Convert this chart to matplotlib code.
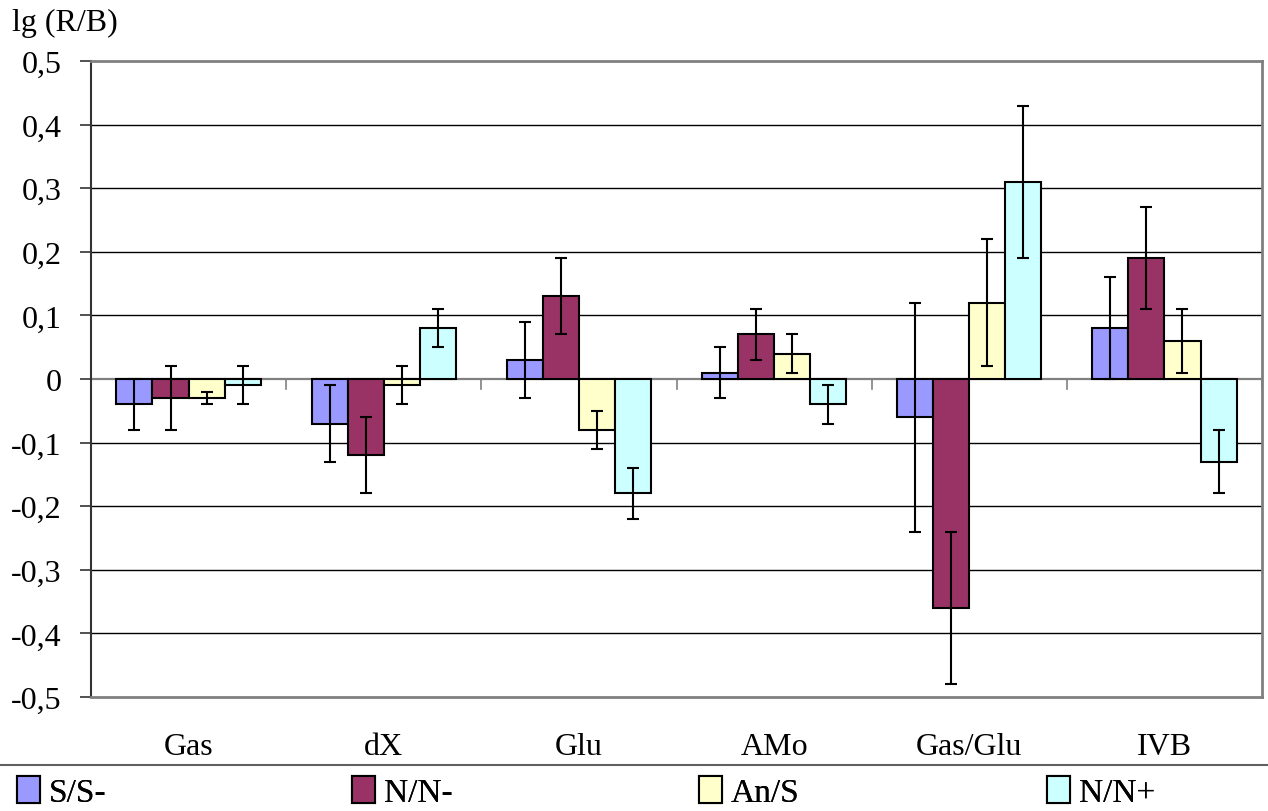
import matplotlib
matplotlib.use("Agg")
import matplotlib.pyplot as plt
from matplotlib.patches import Patch
import numpy as np

categories = ["Gas", "dX", "Glu", "AMo", "Gas/Glu", "IVB"]
series_names = ["S/S-", "N/N-", "An/S", "N/N+"]
s_s_minus = [-0.04, -0.07, 0.03, 0.01, -0.06, 0.08]
n_n_minus = [-0.03, -0.12, 0.13, 0.07, -0.36, 0.19]
an_s = [-0.03, -0.01, -0.08, 0.04, 0.12, 0.06]
n_n_plus = [-0.01, 0.08, -0.18, -0.04, 0.31, -0.13]
err_s_s_minus = [0.04, 0.06, 0.06, 0.04, 0.18, 0.08]
err_n_n_minus = [0.05, 0.06, 0.06, 0.04, 0.12, 0.08]
err_an_s = [0.01, 0.03, 0.03, 0.03, 0.10, 0.05]
err_n_n_plus = [0.03, 0.03, 0.04, 0.03, 0.12, 0.05]
y_ticks = [0.5, 0.4, 0.3, 0.2, 0.1, 0, -0.1, -0.2, -0.3, -0.4, -0.5]
y_tick_labels = ["0,5", "0,4", "0,3", "0,2", "0,1", "0", "-0,1", "-0,2", "-0,3", "-0,4", "-0,5"]

values = [s_s_minus, n_n_minus, an_s, n_n_plus]
errors = [err_s_s_minus, err_n_n_minus, err_an_s, err_n_n_plus]
colors = ["#9999FF", "#993366", "#FFFFCC", "#CCFFFF"]

plt.rcParams['font.family'] = ['Liberation Serif', 'DejaVu Serif']

W, H = 1268, 812
fig = plt.figure(figsize=(W / 100, H / 100), dpi=100)
fig.patch.set_facecolor("white")

left, right, top, bottom = 91, 1262, 62, 698
ax = fig.add_axes([left / W, 1 - bottom / H, (right - left) / W, (bottom - top) / H])

n = len(categories)
x = np.arange(n)
w = 0.185
offsets = [-1.5, -0.5, 0.5, 1.5]

ax.set_xlim(-0.5, n - 0.5)
ax.set_ylim(-0.5, 0.5)

for yv in y_ticks:
    if yv in (0.5, -0.5, 0):
        continue
    ax.axhline(yv, color="black", lw=1.0, zorder=1)
ax.axhline(0, color="#808080", lw=1.6, zorder=1)

for vals, errs, col, off, name in zip(values, errors, colors, offsets, series_names):
    ax.bar(x + off * w, vals, width=w, color=col, edgecolor="black", linewidth=1.5,
           zorder=3, label=name)
    ax.errorbar(x + off * w, vals, yerr=errs, fmt="none", ecolor="black",
                elinewidth=1.5, capsize=4, capthick=1.5, zorder=4)

for b in np.arange(n + 1) - 0.5:
    ax.plot([b, b], [0, -0.016], color="#808080", lw=1.2, zorder=2, clip_on=False)

ax.set_yticks(y_ticks)
ax.set_yticklabels(y_tick_labels, fontsize=23)
ax.tick_params(axis="y", direction="out", length=8, width=1.2, pad=13, color="#333333")
ax.set_xticks(x)
ax.set_xticklabels(categories, fontsize=23)
ax.tick_params(axis="x", length=0, pad=25)

ax.spines["left"].set_color("#333333")
ax.spines["left"].set_linewidth(1.5)
for s in ("top", "right", "bottom"):
    ax.spines[s].set_color("#808080")
    ax.spines[s].set_linewidth(2)

fig.text(12 / W, 1 - 23 / H, "lg (R/B)", fontsize=23, va="center", ha="left")

# legend separator line
fig.add_artist(plt.Line2D([0, 1], [1 - 766 / H, 1 - 766 / H], color="#606060", lw=1.5))

handles, labels = ax.get_legend_handles_labels()
leg_x = [17, 352, 699, 1047]
for hnd, lab, lx in zip(handles, labels, leg_x):
    p = Patch(facecolor=hnd.patches[0].get_facecolor(), edgecolor="black", linewidth=1.5)
    lg = fig.legend([p], [lab], loc="center left", bbox_to_anchor=(lx / W, 1 - 793 / H),
                    frameon=False, fontsize=24, handlelength=0.7, handleheight=0.85,
                    handletextpad=0.25, borderpad=0, borderaxespad=0)
    fig.add_artist(lg)

fig.savefig("out.png", dpi=100, facecolor="white")
